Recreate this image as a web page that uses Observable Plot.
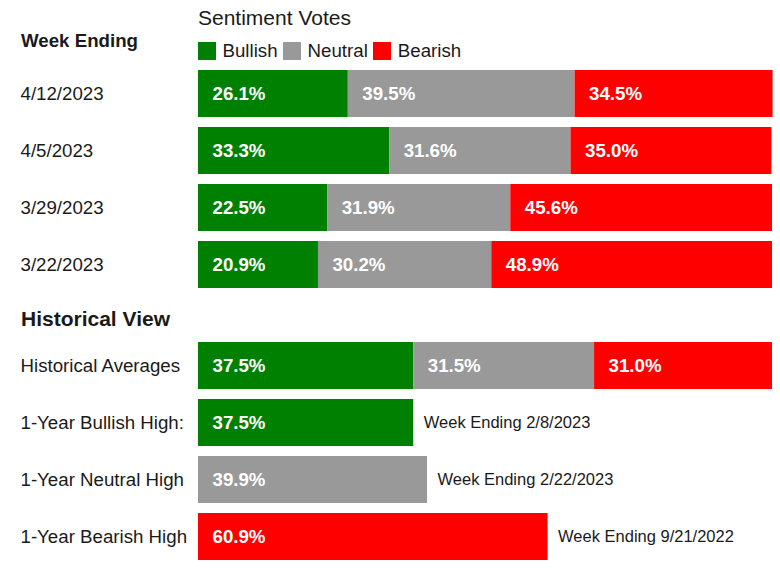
<!DOCTYPE html>
<html>
<head>
<meta charset="utf-8">
<script src="https://cdn.jsdelivr.net/npm/d3@7"></script>
<script src="https://cdn.jsdelivr.net/npm/@observablehq/plot@0.6"></script>
<style>
  html, body { margin: 0; padding: 0; background: #fff; }
  #chart { position: relative; width: 780px; height: 570px; overflow: hidden;
           font-family: "Liberation Sans", Arial, sans-serif; color: #1a1a1a; }
  #chart .abs { position: absolute; line-height: 1; white-space: nowrap; }
  #chart svg { position: absolute; left: 0; }
  .legend { display: flex; align-items: center; height: 18px; }
  .legend .sw { width: 18px; height: 18px; margin-right: 6.5px; }
  .legend .lb { margin-right: 5.5px; font-size: 18.7px; line-height: 1; }
</style>
</head>
<body>
<div id="chart"></div>
<script>
// ---- data ----
const sentiments = ["Bullish", "Neutral", "Bearish"];
const sentimentColors = ["#008000", "#999999", "#ff0000"];

const weeks = ["4/12/2023", "4/5/2023", "3/29/2023", "3/22/2023"];
const bullish = [26.1, 33.3, 22.5, 20.9];
const neutral = [39.5, 31.6, 31.9, 30.2];
const bearish = [34.5, 35.0, 45.6, 48.9];

const histLabels = ["Historical Averages", "1-Year Bullish High:", "1-Year Neutral High", "1-Year Bearish High"];
const histAverages = [37.5, 31.5, 31.0];
const highSentiments = ["Bullish", "Neutral", "Bearish"];
const highValues = [37.5, 39.9, 60.9];
const highDates = ["2/8/2023", "2/22/2023", "9/21/2022"];

// ---- tables built from the arrays ----
const weekRows = [];
weeks.forEach((w, i) => {
  [bullish, neutral, bearish].forEach((arr, j) => {
    weekRows.push({row: w, sentiment: sentiments[j], value: arr[i]});
  });
});
const histRows = histAverages.map((v, j) => ({row: histLabels[0], sentiment: sentiments[j], value: v}));
const highRows = highValues.map((v, i) => ({
  row: histLabels[i + 1], sentiment: highSentiments[i], value: v, note: "Week Ending " + highDates[i]
}));
const allHist = histRows.concat(highRows);

const font = '"Liberation Sans", Arial, sans-serif';
const fmt = d => d.value.toFixed(1) + "%";

function rowsPlot(data, domain, height, marginTop, marginBottom, extra) {
  return Plot.plot({
    width: 780, height, marginLeft: 198, marginRight: 8, marginTop, marginBottom,
    style: {fontFamily: font, fontSize: "18.7px", background: "transparent", color: "#1a1a1a"},
    x: {domain: [0, 100], axis: null},
    y: {domain, paddingInner: 10 / 57, paddingOuter: 10 / 57, label: null, axis: null},
    color: {domain: sentiments, range: sentimentColors},
    marks: [
      Plot.barX(data, {x: "value", y: "row", fill: "sentiment"}),
      Plot.text(data, Plot.stackX1({
        x: "value", y: "row", z: "sentiment", text: fmt,
        textAnchor: "start", dx: 14, dy: 0.5, fill: "white", fontWeight: "bold", fontSize: 18.7
      })),
      Plot.axisY({tickSize: 0, tickPadding: 178, textAnchor: "start", fontSize: 18.7, label: null, fill: "#1a1a1a"}),
      ...(extra || [])
    ]
  });
}

const plotA = rowsPlot(weekRows, weeks, 300, 59.5, 2.5);
const plotB = rowsPlot(allHist, histLabels, 270, 32, 0, [
  Plot.text(highRows, Plot.stackX2({
    x: "value", y: "row", text: "note", textAnchor: "start", dx: 10, dy: -0.5, fontSize: 16.5, fill: "#1a1a1a"
  }))
]);

const chart = document.getElementById("chart");
plotA.style.top = "0px";
plotB.style.top = "300px";
chart.appendChild(plotA);
chart.appendChild(plotB);

function addText(txt, left, top, size, bold) {
  const d = document.createElement("div");
  d.className = "abs";
  d.textContent = txt;
  d.style.left = left + "px";
  d.style.top = top + "px";
  d.style.fontSize = size + "px";
  if (bold) d.style.fontWeight = "bold";
  chart.appendChild(d);
  return d;
}
addText("Sentiment Votes", 198, 7.2, 21, false);
addText("Week Ending", 21, 32, 18.7, true);
addText("Historical View", 21, 308.2, 21, true);

// legend from the plot's own color scale
const color = plotA.scale("color");
const legend = document.createElement("div");
legend.className = "abs legend";
legend.style.left = "198px";
legend.style.top = "42px";
color.domain.forEach((name, i) => {
  const sw = document.createElement("span");
  sw.className = "sw";
  sw.style.background = color.range[i];
  const lb = document.createElement("span");
  lb.className = "lb";
  lb.textContent = name;
  legend.appendChild(sw);
  legend.appendChild(lb);
});
chart.appendChild(legend);
</script>
</body>
</html>
